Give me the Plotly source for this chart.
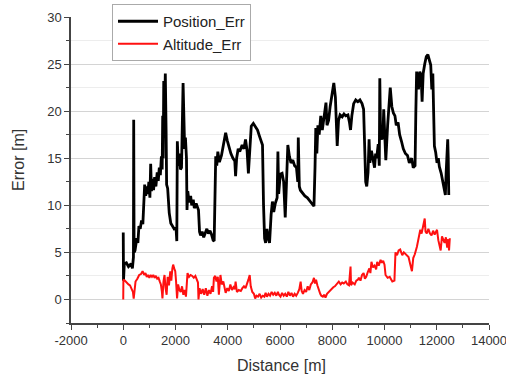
import plotly.graph_objects as go

# Position_Err (black) : distance [m], error [m]
pos_dist = [0, 10, 40, 120, 200, 300, 350, 390, 400, 415, 450, 520, 560, 600, 650, 700, 750, 790, 820, 860,
            900, 940, 980, 1020, 1050, 1080, 1120, 1160, 1200, 1250, 1300, 1340, 1380, 1420, 1460, 1490, 1510,
            1530, 1550, 1580, 1610, 1640, 1660, 1700, 1760, 1820, 1880, 1950, 2020, 2050, 2070, 2110, 2150,
            2190, 2230, 2260, 2290, 2320, 2350, 2380, 2420, 2440, 2470, 2520, 2580, 2620, 2680, 2720, 2790,
            2880, 2920, 2960, 3020, 3080, 3130, 3200, 3260, 3320, 3380, 3440, 3480, 3510, 3540, 3580, 3620,
            3680, 3760, 3840, 3920, 3980, 4040, 4120, 4200, 4270, 4300, 4340, 4400, 4460, 4550, 4620, 4680,
            4740, 4790, 4850, 4900, 4980, 5060, 5140, 5220, 5290, 5330, 5370, 5410, 5450, 5500, 5550, 5600,
            5660, 5710, 5760, 5820, 5890, 5920, 5950, 6010, 6080, 6140, 6200, 6240, 6300, 6360, 6420, 6490,
            6560, 6630, 6680, 6700, 6740, 6780, 6860, 6950, 7050, 7150, 7230, 7300, 7340, 7370, 7410, 7450,
            7500, 7560, 7620, 7700, 7760, 7800, 7860, 7920, 7980, 8060, 8120, 8190, 8240, 8300, 8380, 8450,
            8520, 8600, 8660, 8700, 8750, 8820, 8900, 8980, 9060, 9140, 9200, 9250, 9280, 9320, 9370, 9410,
            9440, 9500, 9560, 9620, 9660, 9700, 9760, 9800, 9820, 9850, 9900, 9940, 9970, 10000, 10050, 10120,
            10220, 10280, 10340, 10400, 10450, 10520, 10580, 10650, 10720, 10800, 10880, 10950, 11040, 11100,
            11170, 11200, 11230, 11270, 11300, 11350, 11400, 11440, 11480, 11540, 11600, 11660, 11720, 11770,
            11810, 11850, 11880, 11910, 11960, 12010, 12060, 12100, 12170, 12230, 12290, 12330, 12360, 12400,
            12420, 12440, 12460]
pos_err = [7.1, 2.0, 3.8, 3.9, 3.5, 3.8, 3.3, 4.5, 19.1, 5.0, 5.2, 6.5, 6.0, 7.8, 7.5, 8.4, 8.0, 10.5, 12.2, 11.0,
           12.0, 11.2, 12.5, 10.8, 14.4, 11.5, 12.8, 11.6, 13.0, 12.0, 13.5, 12.6, 14.0, 13.2, 15.2, 13.8, 19.5,
           15.0, 23.2, 20.0, 24.0, 18.0, 12.2, 11.8, 9.2, 8.1, 7.8, 7.5, 7.6, 6.2, 16.8, 14.2, 15.5,
           13.8, 14.0, 19.0, 23.0, 19.5, 16.0, 17.2, 15.0, 9.5, 11.5, 10.3, 11.0, 10.0, 10.6, 9.7, 10.2,
           9.5, 7.2, 6.8, 7.2, 6.6, 7.0, 7.5, 7.0, 7.3, 6.9, 6.3, 6.2, 11.0, 15.2, 14.2, 15.7,
           14.6, 15.3, 16.5, 17.7, 16.9, 16.3, 15.5, 15.0, 14.7, 13.1, 15.0, 16.0, 15.7, 16.4, 16.0, 17.0,
           15.8, 13.4, 16.5, 18.4, 18.7, 18.4, 18.0, 17.3, 16.8, 16.4, 10.0, 6.5, 6.0, 7.5, 6.5, 6.0,
           9.0, 10.4, 9.3, 10.2, 10.8, 15.7, 11.2, 13.3, 13.4, 12.5, 8.7, 12.0, 16.4, 15.2, 14.5, 14.8,
           14.2, 14.0, 12.5, 17.2, 12.0, 11.6, 11.3, 11.0, 10.8, 10.4, 10.2, 9.9, 14.0, 18.2, 15.5, 18.5,
           17.5, 19.5, 18.0, 19.6, 20.9, 18.5, 19.0, 20.5, 21.8, 23.0, 21.5, 16.3, 19.0, 19.6, 19.4, 19.7,
           19.5, 19.6, 18.8, 18.0, 19.5, 20.8, 21.2, 21.0, 21.2, 20.8, 20.2, 16.0, 12.5, 12.0, 13.5, 17.0,
           14.5, 15.8, 14.8, 14.0, 15.5, 15.0, 16.5, 14.2, 23.5, 17.3, 17.0, 17.5, 20.2, 17.5, 14.8, 18.5,
           22.5, 20.5, 19.8, 19.5, 18.5, 18.8, 17.5, 16.8, 16.0, 15.5, 15.3, 14.5, 15.0, 14.0,
           14.2, 20.0, 24.2, 23.5, 22.3, 24.2, 23.8, 21.0, 24.0, 25.0, 25.8, 26.0, 25.2, 24.9,
           22.3, 24.0, 20.0, 16.3, 15.6, 14.5, 15.0, 14.1, 13.4, 12.6, 11.5, 11.1, 13.5, 16.5,
           17.0, 15.0, 11.1]

# Altitude_Err (red)
alt_dist = [0, 5, 60, 120, 200, 260, 320, 370, 400, 430, 470, 540, 610, 680, 740, 800, 850, 900, 950, 1000,
            1050, 1100, 1150, 1200, 1250, 1300, 1350, 1400, 1440, 1480, 1500, 1540, 1580, 1620, 1660, 1700,
            1750, 1800, 1840, 1880, 1910, 1950, 1990, 2020, 2060, 2100, 2150, 2200, 2250, 2300, 2350, 2400,
            2430, 2460, 2520, 2580, 2640, 2700, 2760, 2820, 2860, 2880, 2920, 2980, 3040, 3100, 3160, 3220,
            3280, 3340, 3400, 3440, 3470, 3520, 3570, 3620, 3660, 3720, 3770, 3830, 3880, 3920, 3980, 4040,
            4100, 4160, 4220, 4270, 4300, 4350, 4420, 4500, 4560, 4620, 4680, 4740, 4790, 4840, 4880, 4940,
            5000, 5050, 5100, 5160, 5220, 5280, 5340, 5400, 5450, 5500, 5560, 5620, 5680, 5740, 5800, 5860,
            5920, 5960, 6020, 6080, 6140, 6200, 6260, 6320, 6380, 6440, 6500, 6560, 6620, 6680, 6740, 6790,
            6830, 6880, 6940, 7000, 7060, 7120, 7180, 7240, 7300, 7340, 7380, 7430, 7480, 7540, 7580, 7640,
            7700, 7740, 7800, 7860, 7920, 7980, 8040, 8100, 8160, 8250, 8320, 8380, 8440, 8520, 8580, 8640,
            8700, 8720, 8780, 8860, 8920, 8980, 9020, 9080, 9140, 9200, 9250, 9300, 9360, 9420, 9460, 9500,
            9560, 9620, 9680, 9720, 9780, 9850, 9900, 9950, 10000, 10040, 10120, 10200, 10260, 10300, 10380,
            10420, 10480, 10540, 10600, 10680, 10740, 10800, 10860, 10920, 10980, 11050, 11100, 11160, 11240,
            11300, 11370, 11420, 11470, 11540, 11570, 11620, 11680, 11740, 11800, 11860, 11920, 11980, 12010,
            12060, 12100, 12150, 12200, 12260, 12300, 12350, 12400, 12440, 12470, 12500]
alt_err = [0.0, 2.1, 2.0, 1.8, 1.6, 1.5, 1.0, 0.8, 0.1, 1.0, 1.9, 2.2, 2.6, 2.7, 3.0, 2.6, 2.8, 2.4, 2.6, 2.3,
           2.6, 2.4, 2.6, 2.3, 2.5, 2.2, 2.3, 1.9, 1.6, 0.8, 0.1, 1.9, 2.6, 1.2, 0.5, 2.4,
           1.5, 3.0, 2.0, 3.3, 3.7, 3.3, 3.0, 2.0, 0.1, 1.6, 1.0, 0.8, 1.4, 0.5, 1.0, 0.3,
           1.5, 2.8, 2.4, 2.6, 2.5, 2.3, 2.5, 2.1, 1.8, 0.0, 1.2, 0.6, 1.1, 0.5, 1.2, 0.4,
           1.0, 0.6, 1.4, 0.8, 2.3, 2.5, 1.9, 2.4, 0.5, 2.6, 1.6, 1.9, 1.0, 0.7, 1.2, 0.9,
           1.6, 1.0, 1.3, 1.1, 1.9, 0.8, 1.0, 0.9, 1.2, 1.4, 1.2, 1.6, 2.1, 2.6, 1.4, 0.8,
           0.6, 0.1, 0.4, 0.3, 0.6, 0.2, 0.4, 0.3, 0.7, 0.3, 0.6, 0.4, 0.8, 0.5, 0.7, 0.4,
           0.8, 0.5, 0.3, 0.7, 0.4, 0.6, 0.3, 0.8, 0.4, 0.7, 0.3, 0.6, 0.4, 0.7, 1.1, 1.9,
           0.9, 0.6, 1.0, 0.8, 1.4, 1.0, 1.6, 1.8, 2.3, 1.7, 2.1, 1.5, 1.0, 0.6, 0.4, 0.3,
           0.5, 0.2, 0.6, 0.8, 1.0, 1.2, 1.3, 1.4, 1.6, 1.9, 1.6, 1.8, 1.7, 1.9, 1.6, 1.5,
           3.5, 1.5, 1.8, 1.6, 2.0, 2.1, 2.3, 2.0, 2.6, 2.8, 2.2, 2.4, 2.9, 3.3, 2.8, 4.0,
           3.4, 3.6, 3.2, 4.0, 3.6, 4.2, 3.9, 4.1, 3.7, 2.6, 2.3, 2.4, 2.1, 1.9, 2.0,
           5.0, 4.7, 5.2, 5.3, 4.7, 5.0, 4.8, 4.6, 4.5, 3.8, 3.0, 4.4, 4.8, 5.6,
           6.5, 7.4, 7.0, 7.6, 8.6, 7.2, 7.0, 7.5, 7.0, 6.8, 7.3, 6.9, 7.2, 7.4,
           6.3, 5.8, 5.2, 6.7, 6.2, 6.0, 6.6, 5.5, 6.4, 5.2, 6.5]

x_ticks = [-2000, 0, 2000, 4000, 6000, 8000, 10000, 12000, 14000]
y_ticks = [0, 5, 10, 15, 20, 25, 30]
x_title = "Distance [m]"
y_title = "Error [m]"

FONT = "Liberation Sans, Arial, sans-serif"
L, R, T, B, W, H = 71, 17, 17, 52, 506, 375
PW, PH = W - L - R, H - T - B

fig = go.Figure()
fig.add_trace(go.Scatter(x=pos_dist, y=pos_err, mode="lines", name="Position_Err",
                         line=dict(color="black", width=2.8)))
fig.add_trace(go.Scatter(x=alt_dist, y=alt_err, mode="lines", name="Altitude_Err",
                         line=dict(color="#ff1010", width=2)))

fig.update_layout(
    width=W, height=H,
    margin=dict(l=L, r=R, t=T, b=B, autoexpand=False),
    paper_bgcolor="white", plot_bgcolor="white",
    font=dict(family=FONT, color="#333333"),
    showlegend=True,
    legend=dict(x=(112 - L) / PW, y=(H - B - 4) / PH, xanchor="left", yanchor="top",
                bgcolor="white", bordercolor="#aaaaaa", borderwidth=1,
                font=dict(size=15, family=FONT, color="#222222"),
                itemwidth=40, tracegroupgap=0),
    xaxis=dict(range=[-2000, 14000], tickvals=x_ticks, ticktext=[str(v) for v in x_ticks],
               showgrid=False, zeroline=False, ticklabeloverflow="allow", tickangle=0,
               showline=True, linecolor="#444444", linewidth=1.5,
               ticks="outside", ticklen=5, tickwidth=1.2, tickcolor="#444444",
               tickfont=dict(size=13, family=FONT, color="#333333"),
               minor=dict(dtick=1000, ticks="outside", ticklen=3, tickcolor="#444444", showgrid=False)),
    yaxis=dict(range=[-2.5, 30], tickvals=y_ticks, ticktext=[str(v) for v in y_ticks],
               showgrid=True, gridcolor="#d4d4d4", gridwidth=1, zeroline=False,
               showline=True, linecolor="#444444", linewidth=1.5,
               ticks="outside", ticklen=5, tickwidth=1.2, tickcolor="#444444",
               tickfont=dict(size=13, family=FONT, color="#333333"),
               minor=dict(dtick=2.5, tick0=0, ticks="outside", ticklen=3, tickcolor="#444444",
                          showgrid=True, gridcolor="#ededed", gridwidth=1)),
    annotations=[
        dict(text=x_title, xref="paper", yref="paper", x=(281 - L) / PW, y=(H - B - 365) / PH,
             xanchor="center", yanchor="middle", showarrow=False,
             font=dict(size=16, family=FONT, color="#333333")),
        dict(text=y_title, xref="paper", yref="paper", x=(18 - L) / PW, y=(H - B - 160) / PH,
             xanchor="center", yanchor="middle", showarrow=False, textangle=-90,
             font=dict(size=16, family=FONT, color="#333333")),
    ],
)

fig.write_html("out.html", config={"displayModeBar": False},
               post_script="document.body.style.margin='0';")
